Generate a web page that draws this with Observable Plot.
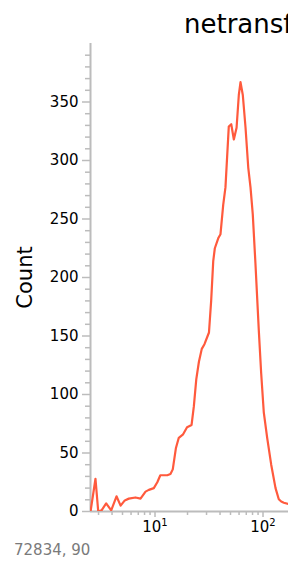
<!DOCTYPE html>
<html>
<head>
<meta charset="utf-8">
<script src="https://cdn.jsdelivr.net/npm/d3@7"></script>
<script src="https://cdn.jsdelivr.net/npm/@observablehq/plot@0.6"></script>
<style>
  html, body { margin: 0; padding: 0; background: white; overflow: hidden; }
  #wrap { width: 288px; height: 566px; overflow: hidden; position: relative; font-family: "DejaVu Sans", sans-serif; }
  #head { position: relative; height: 40px; }
  #title { position: absolute; top: 11px; left: 184px; font-size: 26px; line-height: 1; white-space: nowrap; color: #000; }
  #caption { margin-top: 3px; padding-left: 14px; font-size: 15px; line-height: 1; color: #7a7a7a; white-space: nowrap; }
  svg { display: block; }
</style>
</head>
<body>
<div id="wrap">
  <div id="head"><div id="title">netransfekované</div></div>
  <div id="chart"></div>
  <div id="caption">72834, 90</div>
</div>
<script>
// Histogram (log-scaled fluorescence)
const binValues = [2.53, 2.81, 2.98, 3.2, 3.53, 3.93, 4.4, 4.8, 5.25, 5.72, 6.59, 7.34, 8.17, 8.77, 9.75,
  10.5, 11.2, 13.0, 13.9, 14.6, 15.6, 16.6, 18.2, 19.8, 21.8, 22.9, 24.1, 25.5, 27.1, 28.7,
  31.6, 33.1, 34.6, 35.8, 38.7, 40.4, 42.8, 44.9, 48.2, 50.8, 53.7, 56.9, 59.7, 61.9, 65.0,
  68.9, 73.0, 76.6, 80.4, 85.1, 91.4, 96.2, 101.6, 109.3, 119.1, 130.6, 140, 147.5, 155.9, 172, 200];
const counts = [0, 28, 0, 1, 7, 1, 13, 5, 9.5, 11, 12, 11, 17, 18.5, 20,
  25, 31, 31, 32, 36, 54, 63, 66, 72, 74, 90, 113, 128, 139, 143,
  153, 180, 214, 225, 234, 237, 262, 277, 329, 331, 318, 328, 356, 367, 356,
  328, 294, 277, 254, 212, 155, 118, 85, 63, 40, 20, 10.5, 8.5, 7.5, 6.5, 5];

const xMajorTicks = [10, 100];
const xMajorBase = "10";
const xMajorExponents = ["1", "2"];
const xMinorTicks = [3, 4, 5, 6, 7, 8, 9, 20, 30, 40, 50, 60, 70, 80, 90];
const yMajorTicks = [0, 50, 100, 150, 200, 250, 300, 350];
const yMinorTicks = [10, 20, 30, 40, 60, 70, 80, 90, 110, 120, 130, 140, 160, 170, 180, 190,
  210, 220, 230, 240, 260, 270, 280, 290, 310, 320, 330, 340, 360, 370, 380, 390];
const yLabel = "Count";
const xDomain = [2.527, 172.2];
const yDomain = [0, 400];

const data = binValues.map((v, i) => ({x: v, y: counts[i]}));
const axisGray = "#bcbcbc";

const chart = Plot.plot({
  width: 288,
  height: 500,
  marginLeft: 90,
  marginRight: 0,
  marginTop: 3,
  marginBottom: 29,
  style: "font-family: 'DejaVu Sans', sans-serif; font-size: 15px; background: white; color: black; overflow: visible;",
  x: {type: "log", domain: xDomain, label: null},
  y: {domain: yDomain, label: null},
  marks: [
    Plot.axisY({ticks: yMinorTicks, tickSize: 5, tickFormat: () => "", stroke: axisGray, strokeWidth: 1.5, label: null}),
    Plot.axisY({ticks: yMajorTicks, tickSize: 8, tickPadding: 4, stroke: axisGray, strokeWidth: 1.5, fill: "black", label: null}),
    Plot.axisX({ticks: xMinorTicks, tickSize: 4, tickFormat: () => "", stroke: axisGray, strokeWidth: 1.5, label: null}),
    Plot.axisX({ticks: xMajorTicks, tickSize: 6, tickPadding: 4, stroke: axisGray, strokeWidth: 1.5, fill: "black",
      tickFormat: d => "\u0001" + xMajorExponents[xMajorTicks.indexOf(d)], label: null}),
    Plot.ruleX([xDomain[0]], {stroke: axisGray, strokeWidth: 2}),
    Plot.ruleY([0], {stroke: axisGray, strokeWidth: 2}),
    Plot.line(data, {x: "x", y: "y", stroke: "#ff5a3d", strokeWidth: 2.2, clip: true}),
    Plot.text([yLabel], {frameAnchor: "left", textAnchor: "middle", lineAnchor: "middle", dx: -65, rotate: -90, fontSize: 21, fill: "black", text: d => d})
  ]
});

// Render the decade labels as 10 with a raised exponent
const NS = "http://www.w3.org/2000/svg";
chart.querySelectorAll("text").forEach(t => {
  const s = t.textContent;
  if (s.startsWith("\u0001")) {
    const exp = s.slice(1);
    while (t.firstChild) t.removeChild(t.firstChild);
    const base = document.createElementNS(NS, "tspan");
    base.textContent = xMajorBase;
    const sup = document.createElementNS(NS, "tspan");
    sup.textContent = exp;
    sup.setAttribute("font-size", "10");
    sup.setAttribute("dy", "-6");
    t.appendChild(base);
    t.appendChild(sup);
  }
});
document.getElementById("chart").appendChild(chart);
</script>
</body>
</html>
